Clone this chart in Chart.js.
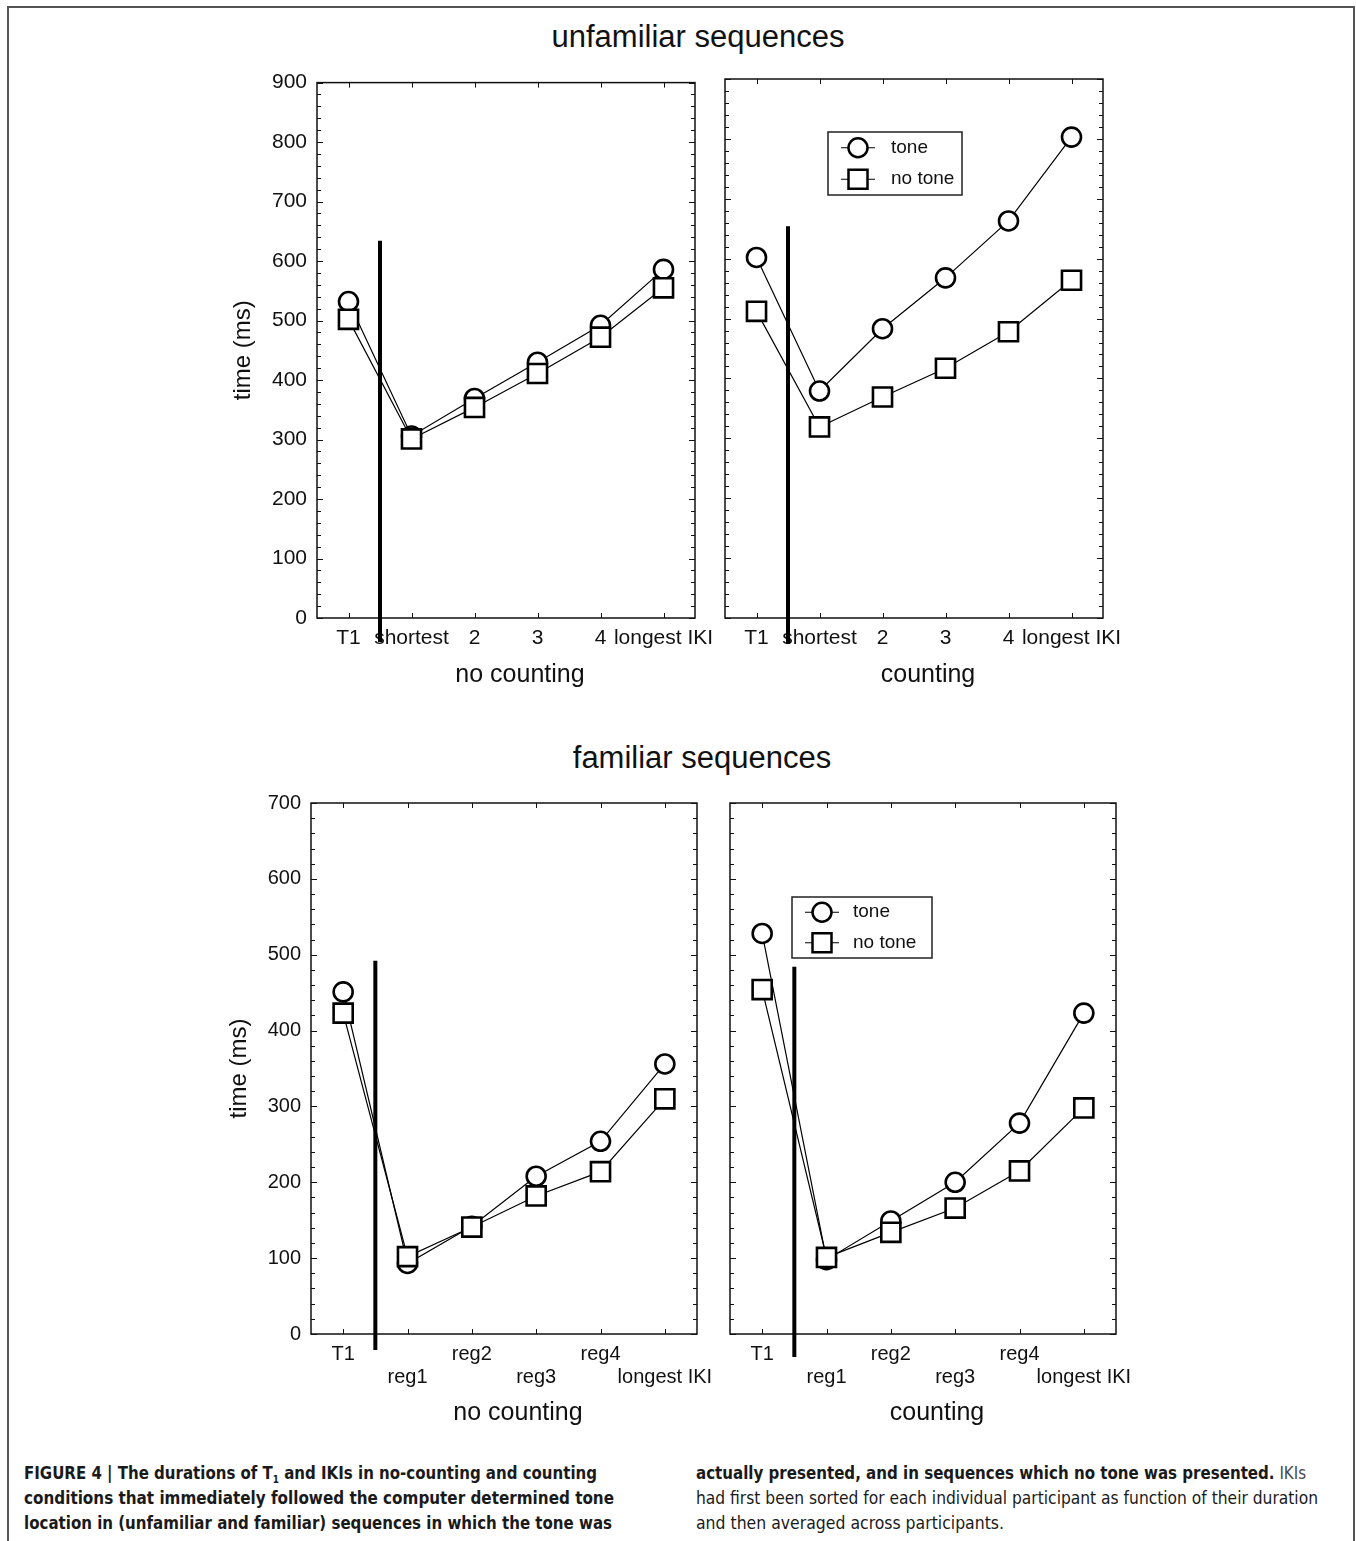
<!DOCTYPE html>
<html>
<head>
<meta charset="utf-8">
<script src="https://cdn.jsdelivr.net/npm/chart.js@4.4.0/dist/chart.umd.min.js"></script>
<style>
  body { margin: 0; background: #fff; width: 1356px; height: 1541px; position: relative; overflow: hidden;
         font-family: "Liberation Sans", Arial, sans-serif; }
  .frame { position: absolute; left: 7px; top: 6px; width: 1344px; height: 1600px; border: 2px solid #555; border-bottom: none; }
  canvas { position: absolute; }
  .title { position: absolute; left: 40px; width: 1316px; text-align: center; font-size: 31px; line-height: 40px; color: #111; }
  .cap { position: absolute; white-space: nowrap; font-family: "Liberation Sans Narrow", "DejaVu Sans Condensed", "Liberation Sans", sans-serif;
         font-size: 17px; line-height: 25px; transform-origin: 0 50%; color: #1a1a1a; }
  .cap b { font-weight: bold; }
  .cap .lt { color: #4a4a4a; }
  .cap sub { font-size: 10px; }
</style>
</head>
<body>
<div class="frame"></div>
<div class="title" style="top:17px">unfamiliar sequences</div>
<div class="title" style="top:738px;left:44px">familiar sequences</div>

<canvas id="tl" width="540" height="645" style="left:200px;top:60px"></canvas>
<canvas id="tr" width="448" height="645" style="left:700px;top:60px"></canvas>
<canvas id="bl" width="540" height="660" style="left:200px;top:780px"></canvas>
<canvas id="br" width="460" height="660" style="left:700px;top:780px"></canvas>

<div class="cap" data-w="573" style="left:24px;top:1461px"><b>FIGURE 4 | The durations of T<sub>1</sub> and IKIs in no-counting and counting</b></div>
<div class="cap" data-w="590" style="left:24px;top:1486px"><b>conditions that immediately followed the computer determined tone</b></div>
<div class="cap" data-w="588" style="left:24px;top:1511px"><b>location in (unfamiliar and familiar) sequences in which the tone was</b></div>
<div class="cap" data-w="610" style="left:696px;top:1461px"><b>actually presented, and in sequences which no tone was presented.</b> <span class="lt">IKIs</span></div>
<div class="cap lt" data-w="622" style="left:696px;top:1486px">had first been sorted for each individual participant as function of their duration</div>
<div class="cap lt" data-w="308" style="left:696px;top:1511px">and then averaged across participants.</div>

<script>
// categories
const unfamiliarCats = ["T1", "shortest", "2", "3", "4", "longest IKI"];
const familiarCats = [["T1"], ["", "reg1"], ["reg2"], ["", "reg3"], ["reg4"], ["", "longest IKI"]];
const seriesNames = ["tone", "no tone"];

// unfamiliar sequences (ms)
const unfNoCountTone = [532, 306, 369, 430, 492, 586];
const unfNoCountNoTone = [502, 301, 354, 411, 472, 555];
const unfCountTone = [602, 379, 483, 568, 663, 803];
const unfCountNoTone = [512, 319, 369, 417, 478, 564];

// familiar sequences (ms)
const famNoCountTone = [451, 93, 142, 208, 254, 356];
const famNoCountNoTone = [423, 102, 141, 182, 214, 310];
const famCountTone = [528, 98, 149, 200, 278, 423];
const famCountNoTone = [454, 101, 134, 166, 215, 298];

Chart.defaults.font.family = "'Liberation Sans', Arial, sans-serif";
Chart.defaults.color = "#111";

function drawMarker(ctx, style, x, y) {
  ctx.beginPath();
  if (style === "circle") {
    ctx.arc(x, y, 9.5, 0, Math.PI * 2);
  } else {
    ctx.rect(x - 9.5, y - 9.5, 19, 19);
  }
  ctx.fillStyle = "#fff";
  ctx.fill();
  ctx.lineWidth = 2.5;
  ctx.strokeStyle = "#000";
  ctx.stroke();
}

const panelDecor = {
  id: "panelDecor",
  beforeDatasetsDraw(chart, args, opts) {
    const { ctx, chartArea: a, scales: { x, y } } = chart;
    ctx.save();
    ctx.strokeStyle = "#111";
    ctx.lineWidth = 1.5;
    ctx.strokeRect(a.left, a.top, a.right - a.left, a.bottom - a.top);
    ctx.lineWidth = 1;
    for (let v = y.min; v <= y.max; v += 20) {
      const py = Math.round(y.getPixelForValue(v)) + 0.5;
      const len = v % 100 === 0 ? 6 : 4;
      ctx.beginPath();
      ctx.moveTo(a.left, py);
      ctx.lineTo(a.left + len, py);
      ctx.moveTo(a.right, py);
      ctx.lineTo(a.right - len, py);
      ctx.stroke();
    }
    x.ticks.forEach((t, i) => {
      const px = Math.round(x.getPixelForTick(i)) + 0.5;
      ctx.beginPath();
      ctx.moveTo(px, a.bottom);
      ctx.lineTo(px, a.bottom - 5);
      ctx.moveTo(px, a.top);
      ctx.lineTo(px, a.top + 5);
      ctx.stroke();
    });
    ctx.restore();
  },
  afterDatasetsDraw(chart, args, opts) {
    const { ctx, chartArea: a, scales: { x, y } } = chart;
    ctx.save();
    // thick divider between T1 and the IKIs
    const sx = (x.getPixelForTick(0) + x.getPixelForTick(1)) / 2;
    ctx.strokeStyle = "#000";
    ctx.lineWidth = 4;
    ctx.beginPath();
    ctx.moveTo(sx, y.getPixelForValue(opts.sepTop));
    ctx.lineTo(sx, a.bottom + opts.sepBelow);
    ctx.stroke();

    // x axis title, sits a little right of the panel centre in the figure
    ctx.fillStyle = "#111";
    ctx.font = "25px 'Liberation Sans', Arial, sans-serif";
    ctx.textAlign = "center";
    ctx.textBaseline = "middle";
    ctx.fillText(opts.xTitle, (a.left + a.right) / 2 + 14, a.bottom + opts.xTitleDy);

    if (opts.legend) {
      const L = opts.legend;
      const bx = a.left + L.dx, by = a.top + L.dy;
      ctx.fillStyle = "#fff";
      ctx.fillRect(bx, by, L.w, L.h);
      ctx.lineWidth = 1.5;
      ctx.strokeStyle = "#222";
      ctx.strokeRect(bx, by, L.w, L.h);
      ctx.textAlign = "left";
      chart.data.datasets.forEach((ds, i) => {
        const ry = by + L.h / 4 + (i * L.h) / 2;
        const mx = bx + L.mx;
        ctx.lineWidth = 1;
        ctx.strokeStyle = "#000";
        ctx.beginPath();
        ctx.moveTo(mx - 17, ry);
        ctx.lineTo(mx + 17, ry);
        ctx.stroke();
        drawMarker(ctx, ds.pointStyle, mx, ry);
        ctx.fillStyle = "#111";
        ctx.font = "19px 'Liberation Sans', Arial, sans-serif";
        ctx.fillText(ds.label, bx + L.tx, ry);
      });
    }
    ctx.restore();
  }
};

function makePanel(id, p) {
  const datasets = [
    { label: seriesNames[0], data: p.tone, pointStyle: "circle", pointRadius: 9.5, order: 1 },
    { label: seriesNames[1], data: p.noTone, pointStyle: "rect", pointRadius: 13.5, order: 0 }
  ].map((d) => Object.assign(d, {
    borderColor: "#000",
    borderWidth: 1.2,
    pointBackgroundColor: "#fff",
    pointBorderColor: "#000",
    pointBorderWidth: 2.6,
    pointHoverRadius: d.pointRadius,
    tension: 0,
    fill: false
  }));

  return new Chart(id, {
    type: "line",
    data: { labels: p.labels, datasets: datasets },
    options: {
      responsive: false,
      animation: false,
      devicePixelRatio: 1,
      layout: { padding: p.padding },
      plugins: {
        legend: { display: false },
        tooltip: { enabled: false },
        panelDecor: { sepTop: p.sepTop, sepBelow: p.sepBelow, legend: p.legend, xTitle: p.xTitle, xTitleDy: p.xTitleDy }
      },
      scales: {
        x: {
          offset: true,
          grid: { display: false, drawTicks: false },
          border: { display: false },
          ticks: {
            autoSkip: false, maxRotation: 0, minRotation: 0,
            padding: p.xTickPad, color: "#111",
            font: { size: p.tickSize, lineHeight: p.tickLH }
          },
          afterFit(s) { s.height = p.xHeight; }
        },
        y: {
          display: p.showY,
          min: 0,
          max: p.yMax,
          grid: { display: false, drawTicks: false },
          border: { display: false },
          ticks: { stepSize: 100, padding: 10, color: "#111", font: { size: p.tickSize } },
          title: { display: true, text: "time (ms)", font: { size: 24 }, color: "#111", padding: { top: p.yTitlePad, bottom: 0 } },
          afterFit(s) { s.width = p.yWidth; }
        }
      }
    },
    plugins: [panelDecor]
  });
}

makePanel("tl", {
  labels: unfamiliarCats, tone: unfNoCountTone, noTone: unfNoCountNoTone, xTitle: "no counting",
  yMax: 900, showY: true, yWidth: 117, yTitlePad: 29, xHeight: 82, xTitleDy: 57,
  tickSize: 21, tickLH: 1.2, xTickPad: 8, sepTop: 634, sepBelow: 24,
  padding: { left: 0, top: 19, right: 45, bottom: 5 }
});
makePanel("tr", {
  labels: unfamiliarCats, tone: unfCountTone, noTone: unfCountNoTone, xTitle: "counting",
  yMax: 900, showY: false, yWidth: 0, yTitlePad: 0, xHeight: 82, xTitleDy: 57,
  tickSize: 21, tickLH: 1.2, xTickPad: 8, sepTop: 654, sepBelow: 26,
  padding: { left: 25, top: 19, right: 45, bottom: 5 },
  legend: { dx: 103, dy: 53, w: 134, h: 63, mx: 30, tx: 63 }
});
makePanel("bl", {
  labels: familiarCats, tone: famNoCountTone, noTone: famNoCountNoTone, xTitle: "no counting",
  yMax: 700, showY: true, yWidth: 111, yTitlePad: 25, xHeight: 100, xTitleDy: 79,
  tickSize: 20, tickLH: 1.15, xTickPad: 9, sepTop: 492, sepBelow: 16,
  padding: { left: 0, top: 23, right: 43, bottom: 6 }
});
makePanel("br", {
  labels: familiarCats, tone: famCountTone, noTone: famCountNoTone, xTitle: "counting",
  yMax: 700, showY: false, yWidth: 0, yTitlePad: 0, xHeight: 100, xTitleDy: 79,
  tickSize: 20, tickLH: 1.15, xTickPad: 9, sepTop: 484, sepBelow: 23,
  padding: { left: 30, top: 23, right: 44, bottom: 6 },
  legend: { dx: 62, dy: 94, w: 140, h: 61, mx: 30, tx: 61 }
});

// squeeze caption lines to the widths of the printed figure text
document.querySelectorAll(".cap").forEach((el) => {
  const w = el.getBoundingClientRect().width;
  const target = +el.dataset.w;
  el.style.transform = "scaleX(" + (target / w) + ")";
});
</script>
</body>
</html>
